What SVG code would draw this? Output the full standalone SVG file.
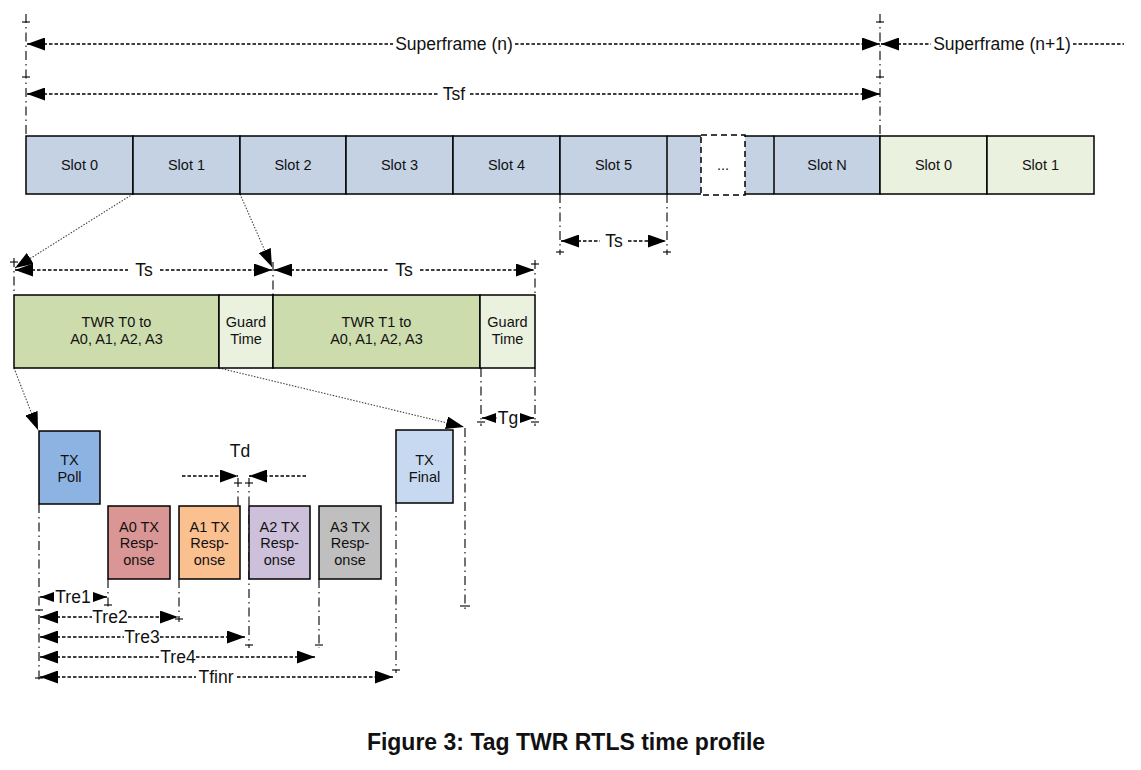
<svg xmlns="http://www.w3.org/2000/svg" width="1141" height="770" viewBox="0 0 1141 770">
<defs>
<style>
.t{font-family:"Liberation Sans",Arial,sans-serif;fill:#111;}
.lbl{font-size:17.5px;text-anchor:middle}
.bt{font-size:14.5px;text-anchor:middle}
.dim{stroke:#000;stroke-width:1.6;stroke-dasharray:3.5 2;fill:none}
.ext{stroke:#000;stroke-width:1.1;stroke-dasharray:9 4 1.5 4;fill:none}
.tick{stroke:#000;stroke-width:1.1}
.dot{stroke:#444;stroke-width:1.1;stroke-dasharray:1.5 1.5;fill:none}
.bx{stroke:#000;stroke-width:1.5}
.blue{fill:#c4d2e4}
.lg{fill:#ebf1df}
.g{fill:#cddcac}
</style>
<marker id="ah" markerUnits="userSpaceOnUse" markerWidth="18" markerHeight="13" refX="18" refY="6.5" orient="auto-start-reverse" viewBox="0 0 18 13"><path d="M0,0 L18,6.5 L0,13z" fill="#000"/></marker>
<marker id="as" markerUnits="userSpaceOnUse" markerWidth="14" markerHeight="10" refX="14" refY="5" orient="auto-start-reverse" viewBox="0 0 14 10"><path d="M0,0 L14,5 L0,10z" fill="#000"/></marker>
</defs>
<rect width="1141" height="770" fill="#fff"/>

<g id="connectors">
  <!-- extension lines -->
  <line class="ext" x1="26" y1="14" x2="26" y2="136"/>
  <line class="ext" x1="880" y1="14" x2="880" y2="136"/>
  <line class="tick" x1="22" y1="22" x2="30" y2="22"/>
  <line class="tick" x1="22" y1="77" x2="30" y2="77"/>
  <line class="tick" x1="876" y1="22" x2="884" y2="22"/>
  <line class="tick" x1="876" y1="77" x2="884" y2="77"/>
  <line class="ext" x1="560" y1="194" x2="560" y2="255"/>
  <line class="ext" x1="667" y1="194" x2="667" y2="255"/>
  <line class="tick" x1="556" y1="252" x2="564" y2="252"/>
  <line class="tick" x1="663" y1="252" x2="671" y2="252"/>
  <line class="ext" x1="14" y1="258" x2="14" y2="295"/>
  <line class="ext" x1="273" y1="262" x2="273" y2="295"/>
  <line class="ext" x1="535" y1="260" x2="535" y2="295"/>
  <line class="tick" x1="10" y1="262" x2="18" y2="262"/>
  <line class="tick" x1="531" y1="264" x2="539" y2="264"/>
  <line class="ext" x1="481" y1="368" x2="481" y2="426"/>
  <line class="ext" x1="535" y1="368" x2="535" y2="426"/>
  <line class="tick" x1="477" y1="422" x2="485" y2="422"/>
  <line class="tick" x1="531" y1="422" x2="539" y2="422"/>
  <line class="ext" x1="465" y1="428" x2="465" y2="612"/>
  <line class="tick" x1="460" y1="606" x2="470" y2="606"/>
  <line class="ext" x1="39" y1="504" x2="39" y2="683"/>
  <line class="tick" x1="35" y1="610" x2="43" y2="610"/>
  <line class="tick" x1="35" y1="678" x2="43" y2="678"/>
  <line class="ext" x1="108" y1="579" x2="108" y2="608"/>
  <line class="tick" x1="104" y1="605" x2="112" y2="605"/>
  <line class="ext" x1="179" y1="579" x2="179" y2="622"/>
  <line class="tick" x1="175" y1="619" x2="183" y2="619"/>
  <line class="ext" x1="238" y1="478" x2="238" y2="506"/>
  <line class="tick" x1="234" y1="483" x2="242" y2="483"/>
  <line class="ext" x1="249" y1="478" x2="249" y2="648"/>
  <line class="tick" x1="245" y1="483" x2="253" y2="483"/>
  <line class="tick" x1="245" y1="645" x2="253" y2="645"/>
  <line class="ext" x1="319" y1="579" x2="319" y2="648"/>
  <line class="tick" x1="315" y1="645" x2="323" y2="645"/>
  <line class="ext" x1="396" y1="503" x2="396" y2="673"/>
  <line class="tick" x1="392" y1="670" x2="400" y2="670"/>

  <!-- dimension arrows -->
  <line class="dim" x1="27" y1="44" x2="393" y2="44" marker-start="url(#ah)"/>
  <line class="dim" x1="515" y1="44" x2="880" y2="44" marker-end="url(#ah)"/>
  <line class="dim" x1="881" y1="44" x2="931" y2="44" marker-start="url(#ah)"/>
  <line class="dim" x1="1073" y1="44" x2="1124" y2="44"/>
  <line class="dim" x1="27" y1="94" x2="438" y2="94" marker-start="url(#ah)"/>
  <line class="dim" x1="470" y1="94" x2="880" y2="94" marker-end="url(#ah)"/>
  <line class="dim" x1="561" y1="241" x2="600" y2="241" marker-start="url(#ah)"/>
  <line class="dim" x1="628" y1="241" x2="666" y2="241" marker-end="url(#ah)"/>
  <line class="dim" x1="15" y1="270" x2="128" y2="270" marker-start="url(#ah)"/>
  <line class="dim" x1="160" y1="270" x2="272" y2="270" marker-end="url(#ah)"/>
  <line class="dim" x1="274" y1="270" x2="388" y2="270" marker-start="url(#ah)"/>
  <line class="dim" x1="420" y1="270" x2="534" y2="270" marker-end="url(#ah)"/>
  <line class="dim" x1="482" y1="418" x2="497" y2="418" marker-start="url(#as)"/>
  <line class="dim" x1="520" y1="418" x2="534" y2="418" marker-end="url(#as)"/>
  <line class="dim" x1="182" y1="476" x2="238" y2="476" marker-end="url(#ah)"/>
  <line class="dim" x1="306" y1="476" x2="249" y2="476" marker-end="url(#ah)"/>
  <line class="dim" x1="40" y1="597" x2="54" y2="597" marker-start="url(#as)"/>
  <line class="dim" x1="93" y1="597" x2="107" y2="597" marker-end="url(#as)"/>
  <line class="dim" x1="40" y1="617" x2="92" y2="617" marker-start="url(#ah)"/>
  <line class="dim" x1="128" y1="617" x2="178" y2="617" marker-end="url(#ah)"/>
  <line class="dim" x1="40" y1="637" x2="124" y2="637" marker-start="url(#ah)"/>
  <line class="dim" x1="160" y1="637" x2="245" y2="637" marker-end="url(#ah)"/>
  <line class="dim" x1="40" y1="657" x2="160" y2="657" marker-start="url(#ah)"/>
  <line class="dim" x1="196" y1="657" x2="315" y2="657" marker-end="url(#ah)"/>
  <line class="dim" x1="40" y1="677" x2="196" y2="677" marker-start="url(#ah)"/>
  <line class="dim" x1="237" y1="677" x2="393" y2="677" marker-end="url(#ah)"/>

  <!-- zoom connectors -->
  <line class="dot" x1="133" y1="194" x2="15" y2="268" marker-end="url(#ah)"/>
  <line class="dot" x1="240" y1="194" x2="272" y2="267" marker-end="url(#ah)"/>
  <line class="dot" x1="14" y1="368" x2="38" y2="430" marker-end="url(#ah)"/>
  <line class="dot" x1="219" y1="368" x2="464" y2="427" marker-end="url(#ah)"/>

  <!-- labels -->
  <text class="t lbl" x="454" y="50">Superframe (n)</text>
  <text class="t lbl" x="1002" y="50">Superframe (n+1)</text>
  <text class="t lbl" x="454" y="100">Tsf</text>
  <text class="t lbl" x="614" y="247">Ts</text>
  <text class="t lbl" x="144" y="276">Ts</text>
  <text class="t lbl" x="404" y="276">Ts</text>
  <text class="t lbl" x="508" y="424">Tg</text>
  <text class="t lbl" x="240" y="457">Td</text>
  <text class="t lbl" x="73" y="603">Tre1</text>
  <text class="t lbl" x="110" y="623">Tre2</text>
  <text class="t lbl" x="142" y="643">Tre3</text>
  <text class="t lbl" x="178" y="663">Tre4</text>
  <text class="t lbl" x="216" y="683">Tfinr</text>
</g>

<g id="slot-row">
  <g id="slot-gap">
    <rect class="blue" x="667" y="136" width="34" height="58"/>
    <rect class="blue" x="745" y="136" width="29" height="58"/>
    <path d="M667,136 H701 M667,194 H701 M745,136 H774 M745,194 H774" stroke="#000" stroke-width="1.5" fill="none"/>
    <rect x="701" y="135" width="44" height="60" fill="#fff" stroke="#000" stroke-width="1.5" stroke-dasharray="6 4"/>
    <text class="t bt" x="723" y="170">...</text>
  </g>
  <g id="slot0"><rect class="bx blue" x="26" y="136" width="107" height="58"/><text class="t bt" x="79.5" y="170">Slot 0</text></g>
  <g id="slot1"><rect class="bx blue" x="133" y="136" width="107" height="58"/><text class="t bt" x="186.5" y="170">Slot 1</text></g>
  <g id="slot2"><rect class="bx blue" x="240" y="136" width="106" height="58"/><text class="t bt" x="293" y="170">Slot 2</text></g>
  <g id="slot3"><rect class="bx blue" x="346" y="136" width="107" height="58"/><text class="t bt" x="399.5" y="170">Slot 3</text></g>
  <g id="slot4"><rect class="bx blue" x="453" y="136" width="107" height="58"/><text class="t bt" x="506.5" y="170">Slot 4</text></g>
  <g id="slot5"><rect class="bx blue" x="560" y="136" width="107" height="58"/><text class="t bt" x="613.5" y="170">Slot 5</text></g>
  <g id="slotN"><rect class="bx blue" x="774" y="136" width="106" height="58"/><text class="t bt" x="827" y="170">Slot N</text></g>
  <g id="next-slot0"><rect class="bx lg" x="880" y="136" width="107" height="58"/><text class="t bt" x="933.5" y="170">Slot 0</text></g>
  <g id="next-slot1"><rect class="bx lg" x="987" y="136" width="107" height="58"/><text class="t bt" x="1040.5" y="170">Slot 1</text></g>
</g>

<g id="twr-t0"><rect class="bx g" x="14" y="295" width="205" height="73"/><text class="t bt" x="116.5" y="327">TWR T0 to</text><text class="t bt" x="116.5" y="344">A0, A1, A2, A3</text></g>
<g id="guard0"><rect class="bx lg" x="219" y="295" width="54" height="73"/><text class="t bt" x="246" y="327">Guard</text><text class="t bt" x="246" y="344">Time</text></g>
<g id="twr-t1"><rect class="bx g" x="273" y="295" width="207" height="73"/><text class="t bt" x="376.5" y="327">TWR T1 to</text><text class="t bt" x="376.5" y="344">A0, A1, A2, A3</text></g>
<g id="guard1"><rect class="bx lg" x="480" y="295" width="55" height="73"/><text class="t bt" x="507.5" y="327">Guard</text><text class="t bt" x="507.5" y="344">Time</text></g>

<g id="tx-poll"><rect class="bx" fill="#8db3e2" x="39" y="431" width="61" height="73"/><text class="t bt" x="69.5" y="465">TX</text><text class="t bt" x="69.5" y="482">Poll</text></g>
<g id="a0"><rect class="bx" fill="#da9694" x="108" y="506" width="62" height="73"/><text class="t bt" x="139" y="532">A0 TX</text><text class="t bt" x="139" y="548">Resp-</text><text class="t bt" x="139" y="565">onse</text></g>
<g id="a1"><rect class="bx" fill="#fac090" x="179" y="506" width="61" height="73"/><text class="t bt" x="209.5" y="532">A1 TX</text><text class="t bt" x="209.5" y="548">Resp-</text><text class="t bt" x="209.5" y="565">onse</text></g>
<g id="a2"><rect class="bx" fill="#ccc0da" x="249" y="506" width="61" height="73"/><text class="t bt" x="279.5" y="532">A2 TX</text><text class="t bt" x="279.5" y="548">Resp-</text><text class="t bt" x="279.5" y="565">onse</text></g>
<g id="a3"><rect class="bx" fill="#bfbfbf" x="319" y="506" width="62" height="73"/><text class="t bt" x="350" y="532">A3 TX</text><text class="t bt" x="350" y="548">Resp-</text><text class="t bt" x="350" y="565">onse</text></g>
<g id="tx-final"><rect class="bx" fill="#c6d9f1" x="396" y="430" width="57" height="73"/><text class="t bt" x="424.5" y="465">TX</text><text class="t bt" x="424.5" y="482">Final</text></g>

<text class="t" x="566" y="750" font-size="23" font-weight="bold" text-anchor="middle">Figure 3: Tag TWR RTLS time profile</text>
</svg>
